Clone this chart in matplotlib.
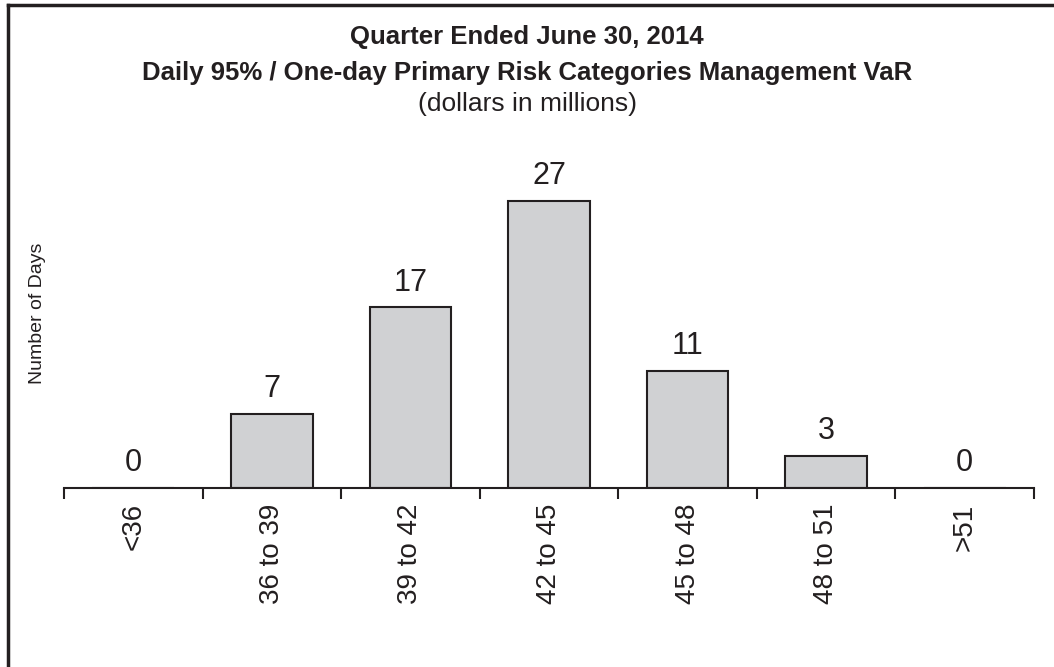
import matplotlib
matplotlib.use("Agg")
import matplotlib.pyplot as plt
from matplotlib.lines import Line2D

# data
categories = ['<36', '36 to 39', '39 to 42', '42 to 45', '45 to 48', '48 to 51', '>51']
days = [0, 7, 17, 27, 11, 3, 0]

plt.rcParams['font.family'] = ['Liberation Sans', 'DejaVu Sans']

fig = plt.figure(figsize=(10.54, 6.67), dpi=100)
ax = fig.add_axes([64 / 1054, 179 / 667, 970 / 1054, 319 / 667])

x = list(range(len(categories)))
ax.bar(x, days, width=0.59, color='#d0d1d3', edgecolor='#231f20', linewidth=1.5)

for xi, v in zip(x, days):
    ax.annotate(str(v), (xi, v), xytext=(0, 7), textcoords='offset points',
                ha='center', va='bottom', fontsize=22, color='#231f20')

ax.set_xlim(-0.5, len(categories) - 0.5)
ax.set_ylim(0, 30)

# ticks at category boundaries, labels at centres
ax.set_xticks([i - 0.5 for i in range(len(categories) + 1)])
ax.set_xticklabels([])
ax.set_xticks(x, minor=True)
ax.set_xticklabels(categories, minor=True, rotation=90, va='top', ha='center',
                   fontsize=20, color='#231f20')
ax.tick_params(axis='x', which='major', length=8, width=1.5, color='#231f20', direction='out')
ax.tick_params(axis='x', which='minor', length=0, pad=11)
ax.set_yticks([])

for s in ['top', 'right', 'left']:
    ax.spines[s].set_visible(False)
ax.spines['bottom'].set_linewidth(1.5)
ax.spines['bottom'].set_color('#231f20')

fig.text(37 / 1054, 1 - 313 / 667, 'Number of Days', rotation=90, ha='center', va='center',
         fontsize=14, color='#231f20')

fig.text(0.5, 1 - 37 / 667, 'Quarter Ended June 30, 2014', ha='center', va='center',
         fontsize=18.5, fontweight='bold', color='#231f20')
fig.text(0.5, 1 - 73 / 667, 'Daily 95% / One-day Primary Risk Categories Management VaR',
         ha='center', va='center', fontsize=18.5, fontweight='bold', color='#231f20')
fig.text(0.5, 1 - 104 / 667, '(dollars in millions)', ha='center', va='center',
         fontsize=19, color='#231f20')

# frame lines at top and left edge
fig.add_artist(Line2D([8 / 1054, 1], [1 - 5 / 667, 1 - 5 / 667], color='#231f20', linewidth=2.5))
fig.add_artist(Line2D([8 / 1054, 8 / 1054], [0, 1 - 5 / 667], color='#231f20', linewidth=2.5))

fig.savefig('out.png', dpi=100)
